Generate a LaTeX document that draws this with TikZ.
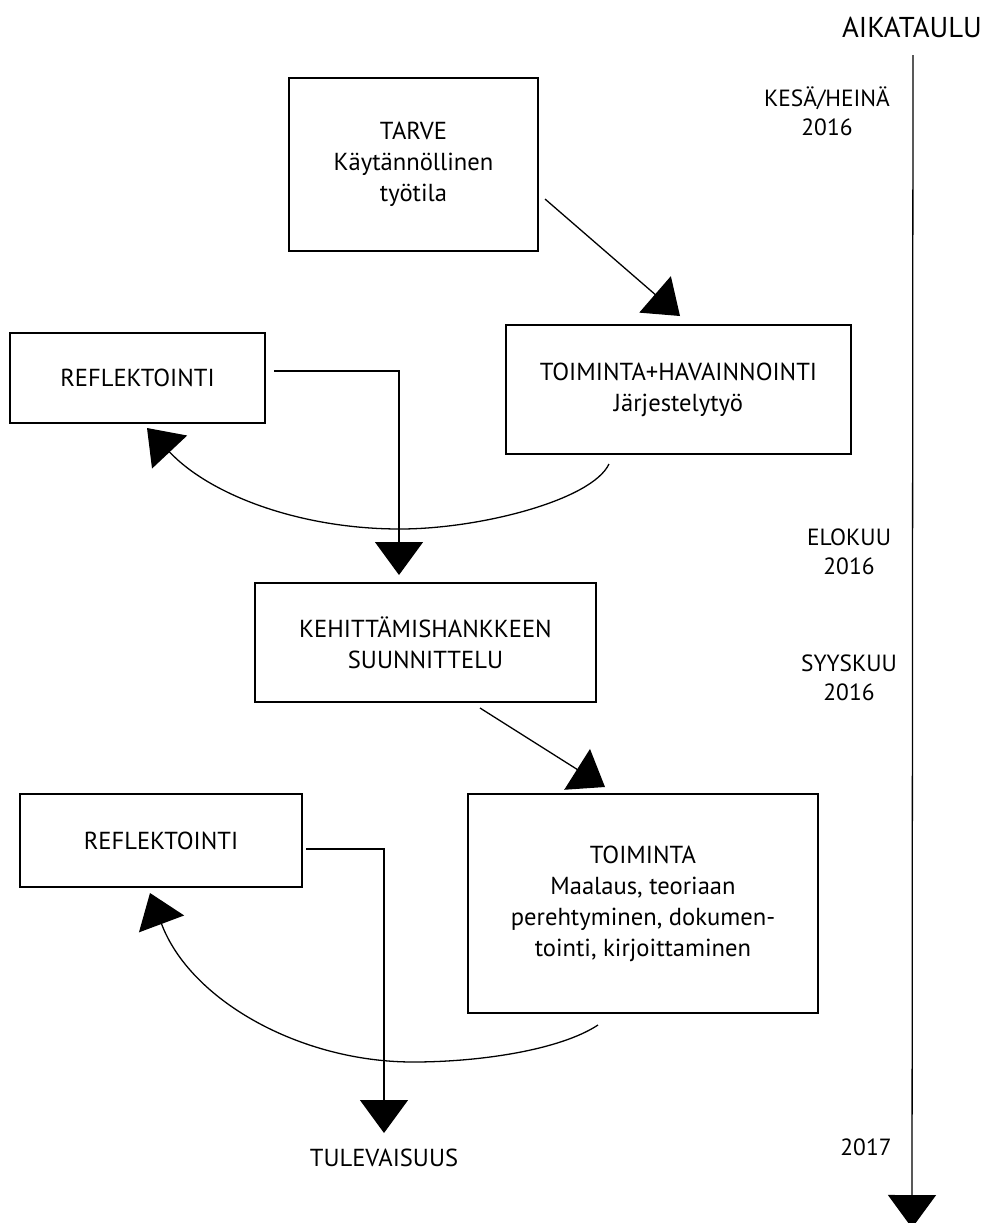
\documentclass[tikz,border=0pt]{standalone}
\usepackage{fontspec}
\setmainfont{PT Sans}
\usetikzlibrary{arrows.meta,calc}
\begin{document}
\begin{tikzpicture}[x=0.03cm,y=-0.03cm,
  box/.style={draw,line width=1.1pt,align=center,inner sep=0pt,font=\fontsize{21pt}{26.5pt}\selectfont},
  conn/.style={line width=1.1pt,-{Triangle[length=0.99cm,width=1.44cm]}},
  lbl/.style={align=center,inner sep=0pt,font=\fontsize{20pt}{24.7pt}\selectfont},
  big/.style={inner sep=0pt,font=\fontsize{24.5pt}{29pt}\selectfont}]
\useasboundingbox (0,0) rectangle (987,1223);

% boxes
\node[box,minimum width=7.47cm,minimum height=5.19cm] (tarve) at (413.5,164.5) {TARVE\\Käytännöllinen\\työtila};
\node[box,minimum width=10.35cm,minimum height=3.87cm] (toim1) at (678.5,389.5) {TOIMINTA+HAVAINNOINTI\\Järjestelytyö};
\node[box,minimum width=7.65cm,minimum height=2.7cm] (refl1) at (137.5,378) {REFLEKTOINTI};
\node[box,minimum width=10.23cm,minimum height=3.57cm] (keh) at (425.5,642.5) {KEHITTÄMISHANKKEEN\\SUUNNITTELU};
\node[box,minimum width=8.46cm,minimum height=2.79cm] (refl2) at (161,840.5) {REFLEKTOINTI};
\node[box,minimum width=10.5cm,minimum height=6.57cm] (toim2) at (643,903.5) {TOIMINTA\\Maalaus, teoriaan\\perehtyminen, dokumen-\\tointi, kirjoittaminen};
\node[box,draw=none] (tul) at (384,1158) {TULEVAISUUS};

% timeline
\node[big] (aika) at (912,27) {AIKATAULU};
\node[lbl] (t1) at (827,111) {KESÄ/HEINÄ\\2016};
\node[lbl] (t2) at (849,552) {ELOKUU\\2016};
\node[lbl] (t3) at (849,678) {SYYSKUU\\2016};
\node[lbl] (t4) at (866,1147) {2017};
\coordinate (tlS) at (913,55);
\coordinate (tlE) at (912,1228);
\draw[conn] (tlS) -- (tlE);

% connector end points
\coordinate (a1s) at (545,199);
\coordinate (a1e) at (680,316);
\coordinate (r1s) at (274,371);
\coordinate (r1e) at (399,575);
\coordinate (c1s) at (609,464);
\coordinate (c1m) at (400,529);
\coordinate (c1e) at (147,428);
\coordinate (a2s) at (480,708);
\coordinate (a2e) at (605,787);
\coordinate (r2s) at (306,849);
\coordinate (r2e) at (384,1133);
\coordinate (c2s) at (598,1025);
\coordinate (c2m) at (413,1062);
\coordinate (c2e) at (150,893);

\draw[conn] (a1s) -- (a1e);
\draw[conn] (r1s) -| (r1e);
\draw[conn] (c1s) .. controls (592,500) and (480,529) .. (c1m) .. controls (300,529) and (210,495) .. (c1e);
\draw[conn] (a2s) -- (a2e);
\draw[conn] (r2s) -| (r2e);
\draw[conn] (c2s) .. controls (560,1050) and (480,1062) .. (c2m) .. controls (300,1062) and (190,1000) .. (c2e);
\end{tikzpicture}
\end{document}
